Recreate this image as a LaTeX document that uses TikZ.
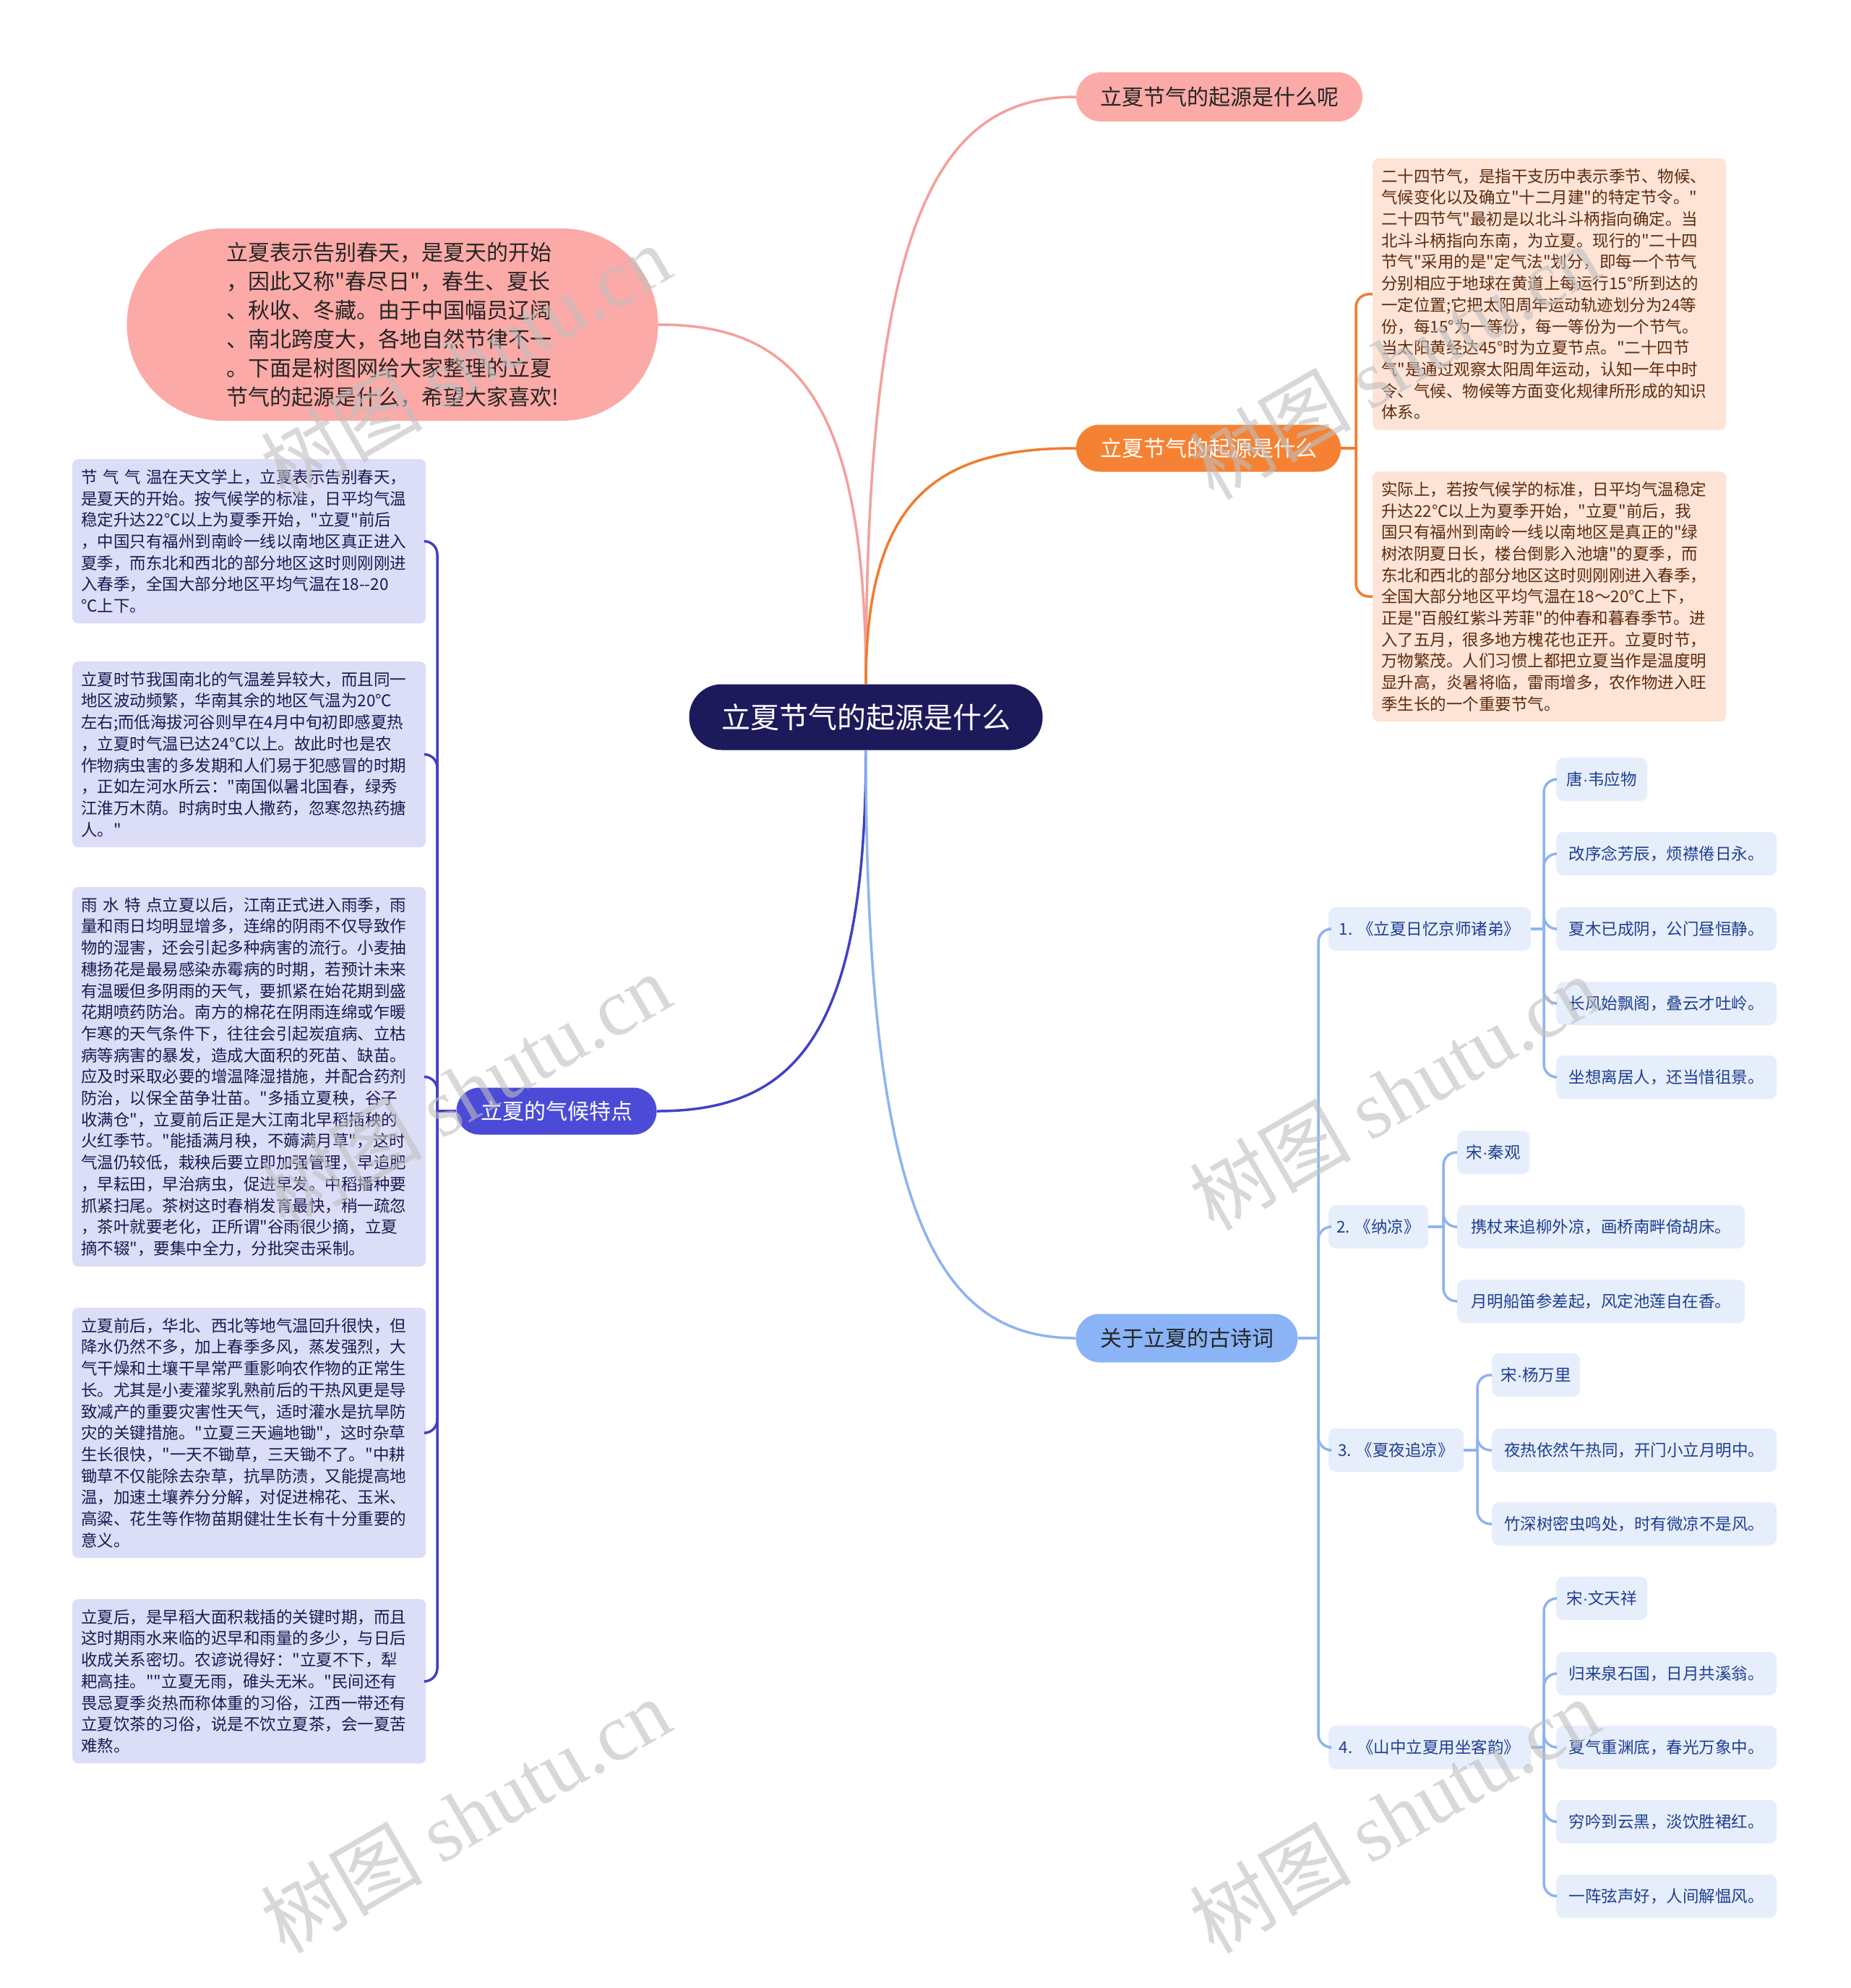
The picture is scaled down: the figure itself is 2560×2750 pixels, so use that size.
\documentclass[tikz,border=0pt]{standalone}
\usepackage{fontspec}
\newfontfamily\cjk{Noto Sans CJK SC}
\newfontfamily\wmser{Liberation Serif}
\newfontfamily\latin{Liberation Sans}
\definecolor{cNavy}{HTML}{1D1A5C}
\definecolor{cPink}{HTML}{FBAAA7}
\definecolor{cPinkL}{HTML}{F4A09B}
\definecolor{cOrange}{HTML}{F58233}
\definecolor{cOrangeL}{HTML}{F07C2E}
\definecolor{cPeach}{HTML}{FDE4D6}
\definecolor{cBrown}{HTML}{5C2B0E}
\definecolor{cPurple}{HTML}{4B4BD7}
\definecolor{cPurpleL}{HTML}{4141C6}
\definecolor{cLav}{HTML}{DCDDF7}
\definecolor{cNavyT}{HTML}{1B1B50}
\definecolor{cBlue}{HTML}{8AB4F6}
\definecolor{cBlueL}{HTML}{8DB4EF}
\definecolor{cIce}{HTML}{E6EEFC}
\definecolor{cBlueT}{HTML}{1F3F8F}
\newcommand{\mdot}{{\latin ·}}
\tikzset{
  mainnode/.style={rectangle, inner sep=0pt, font=\cjk\fontsize{30pt}{36pt}\selectfont},
  detailbox/.style={rectangle, rounded corners=8pt, anchor=north west, align=left,
    text width=465pt, inner xsep=12pt, inner ysep=14pt,
    font=\cjk\fontsize{22.5pt}{29.7pt}\selectfont},
  orangebox/.style={detailbox, fill=cPeach, text=cBrown},
  lavbox/.style={detailbox, fill=cLav, text=cNavyT},
  leafbox/.style={rectangle, rounded corners=10pt, fill=cIce, text=cBlueT, anchor=west,
    minimum height=60pt, inner sep=0pt, font=\cjk\fontsize{22.5pt}{27pt}\selectfont},
  pinkline/.style={draw=cPinkL, line width=3.5pt},
  orangeline/.style={draw=cOrangeL, line width=3.5pt, rounded corners=18pt},
  purpleline/.style={draw=cPurpleL, line width=3.5pt, rounded corners=18pt},
  blueline/.style={draw=cBlueL, line width=3.5pt, rounded corners=18pt},
  watermark/.style={rotate=30, text=gray!50, opacity=0.6, inner sep=0pt,
    font=\fontsize{112pt}{120pt}\selectfont}
}
\begin{document}
\begin{tikzpicture}[x=1pt,y=-1pt]
\fill[white] (0,0) rectangle (2560,2750);
\useasboundingbox (0,0) rectangle (2560,2750);

% central
\node[mainnode, fill=cNavy, text=white, font=\cjk\fontsize{40pt}{48pt}\selectfont,
  minimum width=489pt, minimum height=91pt, rounded corners=45pt] (c) at (1198,992) {立夏节气的起源是什么};

% first level
\node[mainnode, fill=cPink, text=black!85, minimum width=396pt, minimum height=68pt, rounded corners=34pt] (t1) at (1687,134) {立夏节气的起源是什么呢};
\node[mainnode, fill=cPink, text=black!85, align=left, font=\cjk\fontsize{30pt}{40pt}\selectfont,
  minimum width=735pt, minimum height=266pt, rounded corners=133pt] (intro) at (543,449)
  {立夏表示告别春天，是夏天的开始\\，因此又称"春尽日"，春生、夏长\\、秋收、冬藏。由于中国幅员辽阔\\、南北跨度大，各地自然节律不一\\。下面是树图网给大家整理的立夏\\节气的起源是什么，希望大家喜欢!};
\node[mainnode, fill=cOrange, text=white, minimum width=366pt, minimum height=65pt, rounded corners=32pt] (t2) at (1672,620) {立夏节气的起源是什么};
\node[mainnode, fill=cPurple, text=white, minimum width=277pt, minimum height=65pt, rounded corners=32pt] (t3) at (770,1537) {立夏的气候特点};
\node[mainnode, fill=cBlue, text=black!85, minimum width=307pt, minimum height=67pt, rounded corners=33pt] (t4) at (1642,1851) {关于立夏的古诗词};

% orange children
\node[orangebox] (oa) at (1899,219) {二十四节气，是指干支历中表示季节、物候、\\气候变化以及确立"十二月建"的特定节令。"\\二十四节气"最初是以北斗斗柄指向确定。当\\北斗斗柄指向东南，为立夏。现行的"二十四\\节气"采用的是"定气法"划分，即每一个节气\\分别相应于地球在黄道上每运行15°所到达的\\一定位置;它把太阳周年运动轨迹划分为24等\\份，每15°为一等份，每一等份为一个节气。\\当太阳黄经达45°时为立夏节点。"二十四节\\气"是通过观察太阳周年运动，认知一年中时\\令、气候、物候等方面变化规律所形成的知识\\体系。};
\node[orangebox] (ob) at (1899,652) {实际上，若按气候学的标准，日平均气温稳定\\升达22℃以上为夏季开始，"立夏"前后，我\\国只有福州到南岭一线以南地区是真正的"绿\\树浓阴夏日长，楼台倒影入池塘"的夏季，而\\东北和西北的部分地区这时则刚刚进入春季，\\全国大部分地区平均气温在18～20℃上下，\\正是"百般红紫斗芳菲"的仲春和暮春季节。进\\入了五月，很多地方槐花也正开。立夏时节，\\万物繁茂。人们习惯上都把立夏当作是温度明\\显升高，炎暑将临，雷雨增多，农作物进入旺\\季生长的一个重要节气。};

% purple children
\node[lavbox] (p1) at (100,635) {节 气 气 温在天文学上，立夏表示告别春天，\\是夏天的开始。按气候学的标准，日平均气温\\稳定升达22℃以上为夏季开始，"立夏"前后\\，中国只有福州到南岭一线以南地区真正进入\\夏季，而东北和西北的部分地区这时则刚刚进\\入春季，全国大部分地区平均气温在18--20\\℃上下。};
\node[lavbox] (p2) at (100,915) {立夏时节我国南北的气温差异较大，而且同一\\地区波动频繁，华南其余的地区气温为20℃\\左右;而低海拔河谷则早在4月中旬初即感夏热\\，立夏时气温已达24℃以上。故此时也是农\\作物病虫害的多发期和人们易于犯感冒的时期\\，正如左河水所云："南国似暑北国春，绿秀\\江淮万木荫。时病时虫人撒药，忽寒忽热药搪\\人。"};
\node[lavbox] (p3) at (100,1227) {雨 水 特 点立夏以后，江南正式进入雨季，雨\\量和雨日均明显增多，连绵的阴雨不仅导致作\\物的湿害，还会引起多种病害的流行。小麦抽\\穗扬花是最易感染赤霉病的时期，若预计未来\\有温暖但多阴雨的天气，要抓紧在始花期到盛\\花期喷药防治。南方的棉花在阴雨连绵或乍暖\\乍寒的天气条件下，往往会引起炭疽病、立枯\\病等病害的暴发，造成大面积的死苗、缺苗。\\应及时采取必要的增温降湿措施，并配合药剂\\防治，以保全苗争壮苗。"多插立夏秧，谷子\\收满仓"，立夏前后正是大江南北早稻插秧的\\火红季节。"能插满月秧，不薅满月草"，这时\\气温仍较低，栽秧后要立即加强管理，早追肥\\，早耘田，早治病虫，促进早发。中稻播种要\\抓紧扫尾。茶树这时春梢发育最快，稍一疏忽\\，茶叶就要老化，正所谓"谷雨很少摘，立夏\\摘不辍"，要集中全力，分批突击采制。};
\node[lavbox] (p4) at (100,1809) {立夏前后，华北、西北等地气温回升很快，但\\降水仍然不多，加上春季多风，蒸发强烈，大\\气干燥和土壤干旱常严重影响农作物的正常生\\长。尤其是小麦灌浆乳熟前后的干热风更是导\\致减产的重要灾害性天气，适时灌水是抗旱防\\灾的关键措施。"立夏三天遍地锄"，这时杂草\\生长很快，"一天不锄草，三天锄不了。"中耕\\锄草不仅能除去杂草，抗旱防渍，又能提高地\\温，加速土壤养分分解，对促进棉花、玉米、\\高粱、花生等作物苗期健壮生长有十分重要的\\意义。};
\node[lavbox] (p5) at (100,2212) {立夏后，是早稻大面积栽插的关键时期，而且\\这时期雨水来临的迟早和雨量的多少，与日后\\收成关系密切。农谚说得好："立夏不下，犁\\耙高挂。""立夏无雨，碓头无米。"民间还有\\畏忌夏季炎热而称体重的习俗，江西一带还有\\立夏饮茶的习俗，说是不饮立夏茶，会一夏苦\\难熬。};

% poems
\node[leafbox, minimum width=280pt] (s1) at (1838,1285) {1. 《立夏日忆京师诸弟》};
\node[leafbox, minimum width=138pt] (s2) at (1838,1697) {2. 《纳凉》};
\node[leafbox, minimum width=187pt] (s3) at (1838,2006) {3. 《夏夜追凉》};
\node[leafbox, minimum width=280pt] (s4) at (1838,2417) {4. 《山中立夏用坐客韵》};

\node[leafbox, minimum width=126pt] (l11) at (2153,1078) {唐\mdot 韦应物};
\node[leafbox, minimum width=305pt] (l12) at (2153,1181) {改序念芳辰，烦襟倦日永。};
\node[leafbox, minimum width=305pt] (l13) at (2153,1285) {夏木已成阴，公门昼恒静。};
\node[leafbox, minimum width=305pt] (l14) at (2153,1388) {长风始飘阁，叠云才吐岭。};
\node[leafbox, minimum width=305pt] (l15) at (2153,1490) {坐想离居人，还当惜徂景。};

\node[leafbox, minimum width=100pt] (l21) at (2016,1594) {宋\mdot 秦观};
\node[leafbox, minimum width=398pt] (l22) at (2016,1697) {携杖来追柳外凉，画桥南畔倚胡床。};
\node[leafbox, minimum width=398pt] (l23) at (2016,1800) {月明船笛参差起，风定池莲自在香。};

\node[leafbox, minimum width=122pt] (l31) at (2064,1902) {宋\mdot 杨万里};
\node[leafbox, minimum width=394pt] (l32) at (2064,2006) {夜热依然午热同，开门小立月明中。};
\node[leafbox, minimum width=394pt] (l33) at (2064,2108) {竹深树密虫鸣处，时有微凉不是风。};

\node[leafbox, minimum width=126pt] (l41) at (2153,2211) {宋\mdot 文天祥};
\node[leafbox, minimum width=305pt] (l42) at (2153,2315) {归来泉石国，日月共溪翁。};
\node[leafbox, minimum width=305pt] (l43) at (2153,2417) {夏气重渊底，春光万象中。};
\node[leafbox, minimum width=305pt] (l44) at (2153,2520) {穷吟到云黑，淡饮胜裙红。};
\node[leafbox, minimum width=305pt] (l45) at (2153,2623) {一阵弦声好，人间解愠风。};

% central connectors
\draw[pinkline] (c.north) .. controls (1198,297) and (1300,134) .. (t1.west);
\draw[pinkline] (c.north) .. controls (1198,547) and (1097,449) .. (intro.east);
\draw[orangeline] (c.north) .. controls (1198,685) and (1300,620) .. (t2.west);
\draw[purpleline] (c.south) .. controls (1198,1437) and (1097,1537) .. (t3.east);
\draw[blueline] (c.south) .. controls (1198,1688) and (1300,1851) .. (t4.west);

% orange bracket
\coordinate (ob0) at (1876,620);
\draw[orangeline] (t2.east) -- (ob0);
\foreach \n in {oa,ob} \draw[orangeline] (ob0) |- (\n.west);

% purple bracket
\coordinate (pb0) at (605,1537);
\draw[purpleline] (t3.west) -- (pb0);
\foreach \n in {p1,p2,p3,p4,p5} \draw[purpleline] (pb0) |- (\n.east);

% blue bracket
\coordinate (bb0) at (1824,1851);
\draw[blueline] (t4.east) -- (bb0);
\foreach \n in {s1,s2,s3,s4} \draw[blueline] (bb0) |- (\n.west);

\coordinate (sb1) at (2136,1285);
\draw[blueline] (s1.east) -- (sb1);
\foreach \n in {l11,l12,l13,l14,l15} \draw[blueline] (sb1) |- (\n.west);
\coordinate (sb2) at (1997,1697);
\draw[blueline] (s2.east) -- (sb2);
\foreach \n in {l21,l22,l23} \draw[blueline] (sb2) |- (\n.west);
\coordinate (sb3) at (2044,2006);
\draw[blueline] (s3.east) -- (sb3);
\foreach \n in {l31,l32,l33} \draw[blueline] (sb3) |- (\n.west);
\coordinate (sb4) at (2136,2417);
\draw[blueline] (s4.east) -- (sb4);
\foreach \n in {l41,l42,l43,l44,l45} \draw[blueline] (sb4) |- (\n.west);

% watermarks
\foreach \wx/\wy [count=\i] in {644/500, 1929/500, 644/1508, 1929/1511, 644/2511, 1929/2511}
  \node[watermark] (wm\i) at (\wx,\wy) {{\cjk 树图}\hspace{25pt}{\wmser shutu.cn}};
\end{tikzpicture}
\end{document}
